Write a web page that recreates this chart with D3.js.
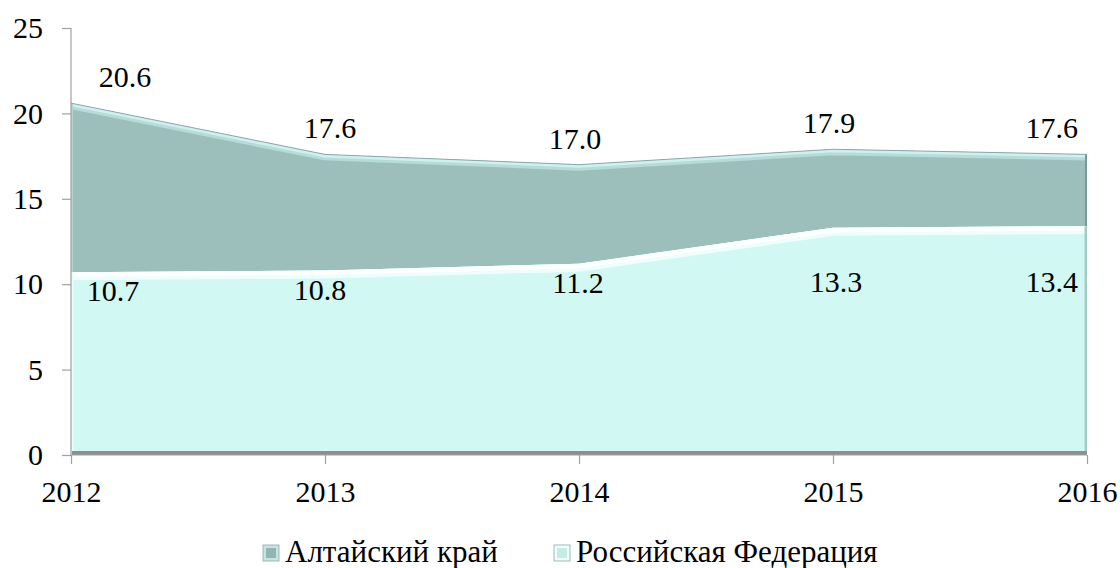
<!DOCTYPE html>
<html>
<head>
<meta charset="utf-8">
<script src="https://cdn.jsdelivr.net/npm/d3@7/dist/d3.min.js"></script>
</head>
<body style="margin:0">
<svg id="chart" width="1120" height="568" font-family="Liberation Serif"></svg>
<script>
const years = ["2012", "2013", "2014", "2015", "2016"];
const altai = [20.6, 17.6, 17.0, 17.9, 17.6];
const russia = [10.7, 10.8, 11.2, 13.3, 13.4];
const seriesNames = ["Алтайский край", "Российская Федерация"];
const yTicks = [0, 5, 10, 15, 20, 25];

const FONT = '"Liberation Serif", "Times New Roman", serif';
const svg = d3.select("#chart");
const x = d3.scalePoint().domain(years).range([71, 1087]);
const y = d3.scaleLinear().domain([0, 25]).range([455, 28]);
const FS = 30;
const LFS = 31;

const defs = svg.append("defs");

function makeArea(vals) {
  return d3.area().x((d, i) => x(years[i])).y0(y(0)).y1(d => y(d))(vals);
}
function makeLine(vals) {
  return d3.line().x((d, i) => x(years[i])).y(d => y(d))(vals);
}
function serif(sel, size) {
  sel.style("font-family", FONT, "important").style("font-size", size + "px", "important")
    .style("font-style", "normal", "important").style("font-weight", "normal", "important");
  return sel;
}

defs.append("clipPath").attr("id", "clipA").append("path").attr("d", makeArea(altai));
defs.append("clipPath").attr("id", "clipR").append("path").attr("d", makeArea(russia));

// Altai area
svg.append("path").attr("d", makeArea(altai)).attr("fill", "#9cbfbc");
const gA = svg.append("g").attr("clip-path", "url(#clipA)");
gA.append("path").attr("d", makeLine(altai)).attr("fill", "none")
  .attr("stroke", "#b5dcd8").attr("stroke-width", 12);
gA.append("path").attr("d", makeLine(altai)).attr("fill", "none")
  .attr("stroke", "#cdf2ee").attr("stroke-width", 6);
gA.append("line").attr("x1", x(years[4])).attr("x2", x(years[4]))
  .attr("y1", 0).attr("y2", y(0)).attr("stroke", "#7b9896").attr("stroke-width", 4);
gA.append("line").attr("x1", x(years[0])).attr("x2", x(years[0]))
  .attr("y1", 0).attr("y2", y(0)).attr("stroke", "#b3d6d2").attr("stroke-width", 4);
svg.append("path").attr("d", makeLine(altai)).attr("fill", "none")
  .attr("stroke", "#88aaa7").attr("stroke-width", 1);

// Russia area
svg.append("path").attr("d", makeArea(russia)).attr("fill", "#d1f8f3");
const gR = svg.append("g").attr("clip-path", "url(#clipR)");
gR.append("path").attr("d", makeLine(russia)).attr("fill", "none")
  .attr("stroke", "#ecfffd").attr("stroke-width", 16);
gR.append("path").attr("d", makeLine(russia)).attr("fill", "none")
  .attr("stroke", "#ffffff").attr("stroke-width", 9);
gR.append("line").attr("x1", x(years[4])).attr("x2", x(years[4]))
  .attr("y1", 0).attr("y2", y(0)).attr("stroke", "#a6cbc7").attr("stroke-width", 5);
gR.append("line").attr("x1", x(years[0])).attr("x2", x(years[0]))
  .attr("y1", 0).attr("y2", y(0)).attr("stroke", "#e6fffc").attr("stroke-width", 5);

// bottom shadow
svg.append("rect").attr("x", x(years[0]) + 1).attr("y", y(0) - 4)
  .attr("width", x(years[4]) - x(years[0]) - 1).attr("height", 4).attr("fill", "#8e8e8e");

// axes
const axisColor = "#a0a0a0";
const yAxis = svg.append("g").attr("transform", `translate(${x(years[0])},0)`)
  .call(d3.axisLeft(y).tickValues(yTicks).tickSize(9).tickPadding(19).tickFormat(d3.format("d")));
const xAxis = svg.append("g").attr("transform", `translate(0,${y(0)})`)
  .call(d3.axisBottom(x).tickSize(9).tickPadding(17));
[yAxis, xAxis].forEach(g => {
  g.attr("font-family", "Liberation Serif").attr("font-size", FS);
  g.select(".domain").attr("stroke", axisColor).attr("stroke-width", 1.2);
  g.selectAll(".tick line").attr("stroke", axisColor).attr("stroke-width", 1.2);
  serif(g.selectAll(".tick text"), FS).attr("fill", "#000");
});
yAxis.select(".domain").attr("d", `M0,${y(25)}V${y(0)}`);
xAxis.select(".domain").attr("d", `M${x(years[0])},0H${x(years[4])}`);
xAxis.selectAll(".tick text").attr("dy", "0.71em");

// data labels
const fmt = d3.format(".1f");
serif(svg.append("g").selectAll("text").data(altai).join("text")
  .attr("x", (d, i) => i === 0 ? x(years[i]) + 54 : (i === 4 ? x(years[i]) - 9 : x(years[i]) + (i === 1 ? 5 : -4)))
  .attr("y", d => y(d) - 16)
  .attr("text-anchor", (d, i) => i === 4 ? "end" : "middle")
  .attr("fill", "#000")
  .text(d => fmt(d)), FS);
serif(svg.append("g").selectAll("text").data(russia).join("text")
  .attr("x", (d, i) => i === 0 ? x(years[i]) + 42 : (i === 4 ? x(years[i]) - 9 : x(years[i]) + (i === 1 ? -5 : (i === 3 ? 3 : -1))))
  .attr("y", d => Math.max(y(d) + 29, 292))
  .attr("text-anchor", (d, i) => i === 4 ? "end" : "middle")
  .attr("fill", "#000")
  .text(d => fmt(d)), FS);

// legend
const legendColors = [["#8fb6b2", "#c6e4e1"], ["#c3ece7", "#eefffd"]];
const legend = svg.append("g");
const legX = [263, 554];
seriesNames.forEach((name, i) => {
  const g = legend.append("g").attr("transform", `translate(${legX[i]},545)`);
  g.append("rect").attr("width", 16).attr("height", 16).attr("fill", legendColors[i][1]);
  g.append("rect").attr("x", 3).attr("y", 3).attr("width", 10).attr("height", 10).attr("fill", legendColors[i][0]);
  g.append("rect").attr("width", 16).attr("height", 16).attr("fill", "none").attr("stroke", "#8aa9a6").attr("stroke-width", 0.8);
  serif(g.append("text").attr("x", 22).attr("y", 16.5).attr("fill", "#000").text(name), LFS);
});
</script>
</body>
</html>
